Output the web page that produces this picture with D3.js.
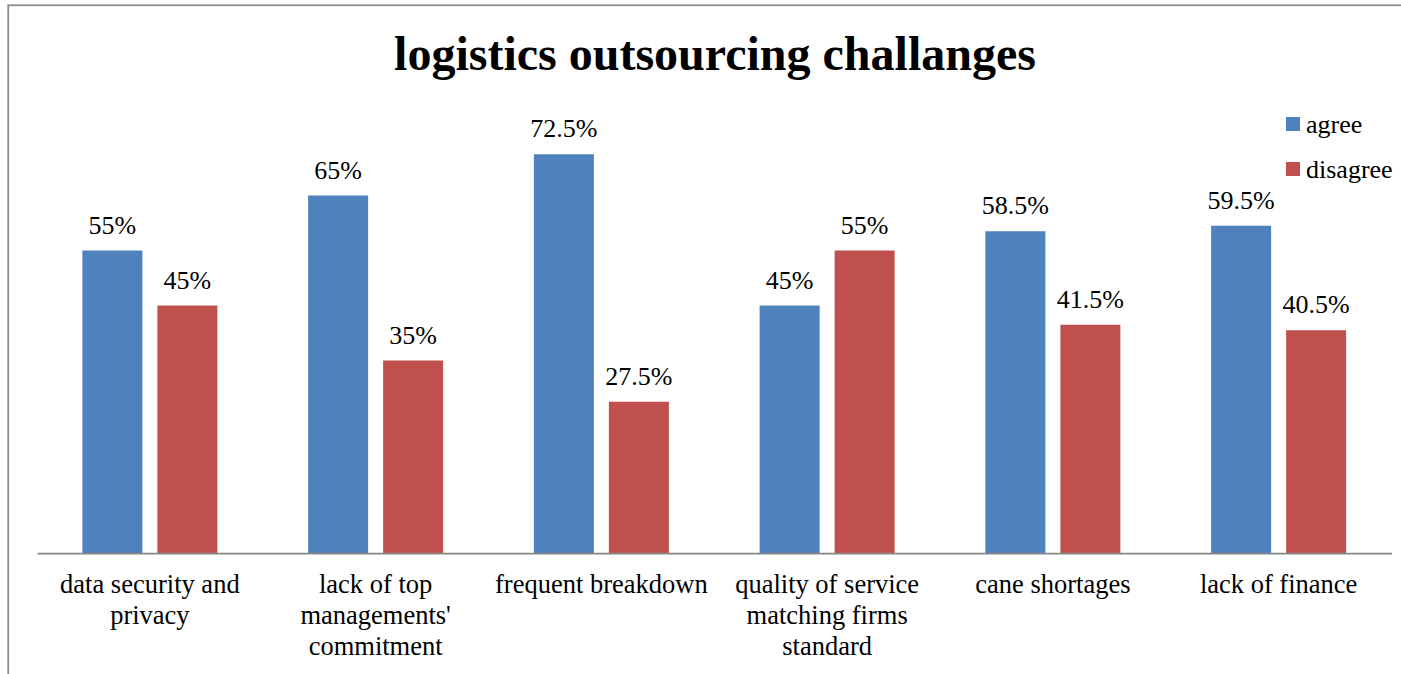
<!DOCTYPE html>
<html>
<head>
<meta charset="utf-8">
<script src="https://cdn.jsdelivr.net/npm/d3@7"></script>
<style>
html,body{margin:0;padding:0;background:#fff;}
svg{display:block;}
</style>
</head>
<body>
<svg id="chart" width="1401" height="674"></svg>
<script>
const title = "logistics outsourcing challanges";
const categories = [
  ["data security and", "privacy"],
  ["lack of top", "managements'", "commitment"],
  ["frequent breakdown"],
  ["quality of service", "matching firms", "standard"],
  ["cane shortages"],
  ["lack of finance"]
];
const seriesNames = ["agree", "disagree"];
const agree = [55, 65, 72.5, 45, 58.5, 59.5];
const disagree = [45, 35, 27.5, 55, 41.5, 40.5];
const seriesColors = ["#4F81BD", "#C0504D"];

const FONT = "'Liberation Serif', 'Times New Roman', Times, 'DejaVu Serif', serif";
const svg = d3.select("#chart").attr("font-family", FONT);
const W = 1401, H = 674;

// outer border (top & left visible)
svg.append("rect").attr("x", 8.25).attr("y", 5.25).attr("width", W + 20).attr("height", H + 20)
  .attr("fill", "none").attr("stroke", "#8a8a8a").attr("stroke-width", 1.75);

const catIdx = categories.map((d, i) => i);
const x0 = d3.scaleBand().domain(catIdx).range([37, 1391.5]).paddingInner(0.402).paddingOuter(0.201);
const x1 = d3.scaleBand().domain(seriesNames).range([0, x0.bandwidth()]).paddingInner(0.2).paddingOuter(0);
const y = d3.scaleLinear().domain([0, 100]).range([553, 3]);
const color = d3.scaleOrdinal().domain(seriesNames).range(seriesColors);

const data = catIdx.map(i => ({i, values: [{k: "agree", v: agree[i]}, {k: "disagree", v: disagree[i]}]}));

const g = svg.append("g");
const groups = g.selectAll("g.cat").data(data).join("g").attr("class", "cat")
  .attr("transform", d => `translate(${x0(d.i)},0)`);

groups.selectAll("rect").data(d => d.values).join("rect")
  .attr("x", d => x1(d.k)).attr("width", x1.bandwidth())
  .attr("y", d => y(d.v)).attr("height", d => y(0) - y(d.v))
  .attr("fill", d => color(d.k));

groups.selectAll("text.val").data(d => d.values).join("text").attr("class", "val")
  .attr("x", d => x1(d.k) + x1.bandwidth() / 2)
  .attr("y", d => y(d.v) - 17)
  .attr("text-anchor", "middle").attr("font-size", "26px").attr("font-family", FONT)
  .attr("fill", "#000")
  .text(d => d.v + "%");

// baseline axis
const xAxis = d3.axisBottom(d3.scaleLinear().range([37, 1391.5])).ticks(0).tickSize(0).tickFormat("");
const axG = svg.append("g").attr("transform", `translate(0,${y(0)})`).call(xAxis);
axG.select(".domain").attr("stroke", "#868686").attr("stroke-width", 1.75);

// category labels
const labels = svg.selectAll("text.cat").data(data).join("text").attr("class", "cat")
  .attr("x", d => x0(d.i) + x0.bandwidth() / 2)
  .attr("y", 593)
  .attr("text-anchor", "middle").attr("font-size", "26.5px").attr("font-family", FONT).attr("fill", "#000");
labels.selectAll("tspan").data(d => categories[d.i]).join("tspan")
  .attr("x", function() { return d3.select(this.parentNode).attr("x"); })
  .attr("dy", (d, j) => j === 0 ? 0 : 31)
  .text(d => d);

// title
svg.append("text").attr("x", 715).attr("y", 70).attr("text-anchor", "middle")
  .attr("font-size", "48px").attr("font-weight", "bold").attr("font-family", FONT).attr("fill", "#000").text(title);

// legend
const leg = svg.append("g");
seriesNames.forEach((s, j) => {
  const yy = 117 + j * 45;
  leg.append("rect").attr("x", 1286).attr("y", yy).attr("width", 14).attr("height", 14).attr("fill", color(s));
  leg.append("text").attr("x", 1306).attr("y", yy + 15.5).attr("font-size", "26px").attr("font-family", FONT)
    .attr("fill", "#000").text(s);
});
</script>
</body>
</html>
